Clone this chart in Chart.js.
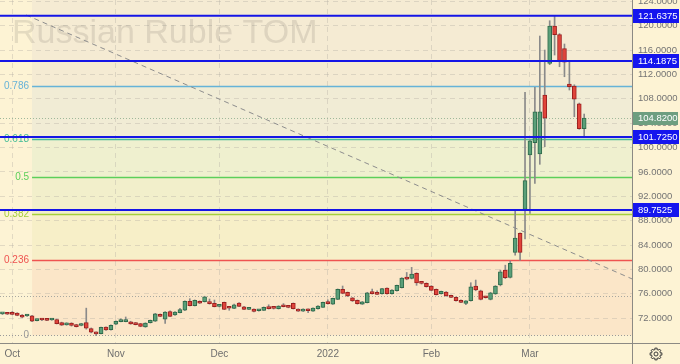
<!DOCTYPE html>
<html><head><meta charset="utf-8">
<script src="https://cdn.jsdelivr.net/npm/chart.js"></script>
<style>html,body{margin:0;padding:0;background:#fdf3d4;overflow:hidden}#c{display:block}</style>
</head><body><canvas id="c" width="680" height="364"></canvas>
<script>
// ---------- DATA ----------
const dates = [
"2021-09-29","2021-09-30",
"2021-10-01","2021-10-04","2021-10-05","2021-10-06","2021-10-07","2021-10-08","2021-10-11","2021-10-12","2021-10-13","2021-10-14","2021-10-15",
"2021-10-18","2021-10-19","2021-10-20","2021-10-21","2021-10-22","2021-10-25","2021-10-26","2021-10-27","2021-10-28","2021-10-29",
"2021-11-01","2021-11-02","2021-11-03","2021-11-05","2021-11-08","2021-11-09","2021-11-10","2021-11-11","2021-11-12",
"2021-11-15","2021-11-16","2021-11-17","2021-11-18","2021-11-19","2021-11-22","2021-11-23","2021-11-24","2021-11-25","2021-11-26","2021-11-29","2021-11-30",
"2021-12-01","2021-12-02","2021-12-03","2021-12-06","2021-12-07","2021-12-08","2021-12-09","2021-12-10","2021-12-13","2021-12-14","2021-12-15","2021-12-16","2021-12-17",
"2021-12-20","2021-12-21","2021-12-22","2021-12-23","2021-12-24","2021-12-27","2021-12-28","2021-12-29","2021-12-30",
"2022-01-03","2022-01-04","2022-01-05","2022-01-06","2022-01-07","2022-01-10","2022-01-11","2022-01-12","2022-01-13","2022-01-14",
"2022-01-17","2022-01-18","2022-01-19","2022-01-20","2022-01-21","2022-01-24","2022-01-25","2022-01-26","2022-01-27","2022-01-28","2022-01-31",
"2022-02-01","2022-02-02","2022-02-03","2022-02-04","2022-02-07","2022-02-08","2022-02-09","2022-02-10","2022-02-11",
"2022-02-14","2022-02-15","2022-02-16","2022-02-17","2022-02-18","2022-02-21","2022-02-22","2022-02-23","2022-02-24","2022-02-25","2022-02-28",
"2022-03-01","2022-03-02","2022-03-03","2022-03-04","2022-03-07","2022-03-09","2022-03-10","2022-03-11","2022-03-14","2022-03-15","2022-03-16","2022-03-17"
];
const opens = [
72.72,72.75,72.90,72.85,72.52,72.36,72.40,71.60,71.78,71.80,
71.70,71.78,71.30,70.90,71.20,70.93,70.80,71.30,70.30,69.68,
69.45,70.55,70.12,71.00,71.45,71.45,71.42,71.26,71.10,70.55,
71.26,71.50,72.62,71.86,73.10,72.52,72.90,73.30,74.75,74.05,
74.77,74.70,74.65,74.44,73.95,74.60,73.70,73.62,74.48,73.88,
73.45,73.50,73.22,73.29,73.78,73.63,73.55,74.16,74.00,74.44,
73.50,73.17,73.50,73.17,73.55,73.78,74.60,74.32,75.10,76.74,
76.24,75.36,74.93,74.32,74.54,76.18,76.12,76.01,76.95,76.02,
76.51,77.00,78.54,78.54,79.36,77.88,77.72,77.28,76.74,76.01,
76.29,75.75,75.42,74.93,74.44,74.86,77.28,76.51,75.50,75.09,
75.97,77.44,79.90,78.70,82.80,85.92,89.86,98.77,100.79,98.94,
108.62,113.82,119.94,118.52,116.22,110.43,110.10,107.19,103.09];
const highs = [
72.85,72.80,73.10,72.90,72.60,72.65,72.45,71.85,71.90,71.90,
71.95,71.85,71.35,71.25,71.25,71.00,71.15,73.65,70.40,69.75,
70.55,70.60,70.90,71.55,71.90,72.20,71.50,71.30,71.15,71.25,
71.70,72.80,72.70,73.10,73.20,73.10,73.62,74.85,75.20,75.00,
74.85,75.60,75.15,74.98,74.25,74.65,73.90,74.30,74.55,73.95,
73.65,73.55,73.45,73.85,74.20,73.75,74.05,74.40,74.05,74.50,
73.55,73.55,73.55,73.70,74.05,74.65,75.00,75.30,76.80,77.28,
76.30,75.40,75.00,74.75,76.25,76.78,76.50,76.90,77.00,76.70,
77.45,78.65,79.50,80.34,79.45,77.95,77.80,77.35,76.80,76.45,
76.35,75.80,75.50,75.00,74.90,77.82,78.26,76.60,75.60,76.25,
77.35,79.90,80.70,81.38,89.63,86.00,109.06,101.30,109.88,118.30,
116.00,120.81,121.64,118.70,116.99,114.09,110.30,107.30,105.50];
const lows = [
72.60,72.60,72.55,72.40,72.10,72.30,71.45,71.55,71.60,71.60,
71.65,71.05,70.80,70.85,70.70,70.55,70.75,70.20,69.60,69.15,
69.40,70.00,70.05,70.95,71.40,71.40,71.00,70.90,70.60,70.50,
71.20,71.45,72.25,71.15,72.25,72.45,72.85,73.25,74.00,74.00,
74.40,74.65,74.30,73.85,73.85,73.40,73.30,73.55,73.90,73.40,
73.40,73.05,73.15,73.25,73.50,73.50,73.50,73.85,73.70,73.50,
73.10,73.10,72.90,73.10,73.50,73.75,74.30,74.25,75.05,76.00,
75.55,74.75,74.30,74.25,74.50,75.95,75.85,75.95,75.95,75.95,
76.45,76.95,78.30,78.45,77.39,77.60,77.10,76.50,75.80,75.95,
75.60,75.35,74.80,74.55,74.20,74.80,76.50,75.00,75.30,75.00,
75.90,77.30,78.50,78.60,82.36,81.54,84.99,89.21,94.13,97.25,
100.14,113.60,115.18,113.26,111.62,109.44,105.06,103.00,101.78];
const closes = [
72.75,72.65,72.62,72.47,72.15,72.55,71.50,71.80,71.70,71.65,
71.87,71.10,70.85,71.20,70.80,70.62,71.10,70.35,69.70,69.42,
70.50,70.08,70.83,71.50,71.55,71.58,71.05,70.95,70.66,71.20,
71.65,72.72,72.30,73.00,72.30,73.00,73.40,74.77,74.05,74.93,
74.45,75.52,74.38,73.90,74.15,73.45,73.63,74.20,73.95,73.45,
73.60,73.12,73.33,73.78,73.56,73.60,74.00,73.88,73.78,73.55,
73.17,73.50,73.22,73.67,74.00,74.60,74.38,75.26,76.74,76.08,
75.64,74.82,74.38,74.70,76.18,76.02,75.92,76.84,76.02,76.62,
77.39,78.59,78.40,79.25,77.77,77.72,77.17,76.57,75.85,76.41,
75.64,75.42,74.86,74.60,74.86,77.16,76.62,75.10,75.35,76.18,
77.28,79.62,78.64,81.00,85.15,82.80,94.56,101.12,105.88,105.88,
104.80,119.94,118.52,114.25,113.99,109.98,107.92,103.09,104.82];

const monthNames = ["Jan","Feb","Mar","Apr","May","Jun","Jul","Aug","Sep","Oct","Nov","Dec"];
const yTickValues = [72,76,80,84,88,92,96,100,104,108,112,116,120,124];
const keyLevels = [121.6375,114.1875,101.725,89.7525];
const lastPrice = 104.82;
const dottedLevels = [75.64];
const fibLow = 69.19, fibHigh = 121.23;
const fibRatios = [0,0.236,0.382,0.5,0.618,0.786];
const fibLabels = ["0","0.236","0.382","0.5","0.618","0.786"];
const trendLine = [{x:4.8,y:121.75},{x:130,y:77.64}];
const title = "Russian Ruble TOM";

// ---------- STYLE ----------
const BG = "#fdf3d4";
const FONT = '"Liberation Sans",Arial,sans-serif';
const fibColors = ["#9a9a9a","#ef5350","#a6cf3c","#5ccf5a","#47bd98","#66b3d8"];
const zoneColors = ["#fbe6c8","#f7efc8","#f2efcb","#eff0cf","#f1ecd5","#f5ebd3"];
const FIB_START = 6;
const UP_FILL = "#5a9f79", UP_LINE = "#2f6b4b", DN_FILL = "#e0443a", DN_LINE = "#9b2020", WICK = "#8a8a8a";

const n = dates.length;
const idx = dates.map((d,i)=>i);
const wickData = idx.map(i=>({x:i,y:[lows[i],highs[i]]}));
const bodyData = idx.map(i=>({x:i,y:[opens[i],closes[i]]}));
const isUp = idx.map(i=>closes[i]>=opens[i]);

const monthTicks = [];
for (let i=1;i<n;i++){ if (dates[i].slice(0,7)!==dates[i-1].slice(0,7)) monthTicks.push(i); }
function monthLabel(i){ const m=+dates[i].slice(5,7)-1; return m===0 ? dates[i].slice(0,4) : monthNames[m]; }

const deco = {
  id:'deco',
  beforeDraw(chart){
    const {ctx, chartArea:a, scales:{x,y}} = chart;
    ctx.save();
    ctx.fillStyle = BG; ctx.fillRect(0,0,chart.width,chart.height);
    const x0 = x.getPixelForValue(FIB_START);
    const lv = fibRatios.map(r=>fibLow + r*(fibHigh-fibLow));
    for (let k=0;k<lv.length;k++){
      const bot = y.getPixelForValue(lv[k]);
      const top = k===lv.length-1 ? a.top : y.getPixelForValue(lv[k+1]);
      ctx.fillStyle = zoneColors[k];
      ctx.fillRect(x0, top, a.right-x0, bot-top);
    }
    ctx.restore();
  },
  beforeDatasetsDraw(chart){
    const {ctx, chartArea:a, scales:{x,y}} = chart;
    ctx.save();
    ctx.font = '34px "Liberation Sans",Arial,sans-serif';
    ctx.fillStyle = "rgba(120,118,105,0.19)";
    ctx.textBaseline = "alphabetic"; ctx.textAlign = "left";
    ctx.fillText(title, 12, 43);
    const x0 = x.getPixelForValue(FIB_START);
    ctx.font = '10px '+FONT; ctx.textAlign="right"; ctx.textBaseline="middle";
    fibRatios.forEach((r,k)=>{
      const py = Math.round(y.getPixelForValue(fibLow + r*(fibHigh-fibLow)))+0.5;
      ctx.strokeStyle = fibColors[k]; ctx.lineWidth = k===0?1:1.5;
      ctx.setLineDash(k===0?[1,2]:[]);
      ctx.beginPath(); ctx.moveTo(k===0?a.left:x0,py); ctx.lineTo(a.right,py); ctx.stroke();
      ctx.fillStyle = fibColors[k];
      ctx.fillText(fibLabels[k], x0-3, py);
    });
    ctx.setLineDash([1,2]); ctx.lineWidth=1; ctx.strokeStyle="#a8a8a0";
    dottedLevels.forEach(v=>{ const py=Math.round(y.getPixelForValue(v))+0.5; ctx.beginPath(); ctx.moveTo(a.left,py); ctx.lineTo(a.right,py); ctx.stroke(); });
    ctx.strokeStyle="#9fb89a";
    const pp=Math.round(y.getPixelForValue(lastPrice))+0.5;
    ctx.beginPath(); ctx.moveTo(a.left,pp); ctx.lineTo(a.right,pp); ctx.stroke();
    ctx.restore();
  },
  afterDatasetsDraw(chart){
    const {ctx, chartArea:a, scales:{y}} = chart;
    ctx.save();
    ctx.font = '9.5px '+FONT; ctx.textBaseline="middle"; ctx.textAlign="left";
    keyLevels.forEach(v=>{
      const py = y.getPixelForValue(v);
      ctx.strokeStyle="#1515e6"; ctx.lineWidth=2;
      ctx.beginPath(); ctx.moveTo(a.left,py); ctx.lineTo(a.right,py); ctx.stroke();
      ctx.fillStyle="#1515ee"; ctx.fillRect(a.right, Math.round(py)-7, 47, 14);
      ctx.fillStyle="#ffffff"; ctx.fillText(v.toFixed(4), a.right+6, py+0.5);
    });
    const pp = y.getPixelForValue(lastPrice);
    ctx.fillStyle="#6d9e80"; ctx.fillRect(a.right, Math.round(pp)-6, 46, 13);
    ctx.fillStyle="#ffffff"; ctx.fillText(lastPrice.toFixed(4), a.right+6, pp+0.5);
    ctx.restore();
  },
  afterDraw(chart){
    const {ctx, chartArea:a} = chart;
    ctx.save();
    ctx.strokeStyle="#8c8a84"; ctx.lineWidth=1;
    ctx.beginPath(); ctx.moveTo(0,a.bottom+0.5); ctx.lineTo(chart.width,a.bottom+0.5); ctx.stroke();
    ctx.beginPath(); ctx.moveTo(a.right+0.5,0); ctx.lineTo(a.right+0.5,chart.height); ctx.stroke();
    const cx=656, cy=354; ctx.strokeStyle="#3c3c3c"; ctx.lineWidth=1;
    ctx.beginPath();
    for (let t=0;t<16;t++){ const ang=t*Math.PI/8; const r=(t%2===0)?6:4.6;
      if(t===0) ctx.moveTo(cx+r*Math.cos(ang-0.2),cy+r*Math.sin(ang-0.2));
      ctx.lineTo(cx+r*Math.cos(ang-0.2),cy+r*Math.sin(ang-0.2));
      ctx.lineTo(cx+r*Math.cos(ang+0.2),cy+r*Math.sin(ang+0.2));
    }
    ctx.closePath(); ctx.stroke();
    ctx.beginPath(); ctx.arc(cx,cy,2,0,Math.PI*2); ctx.stroke();
    ctx.restore();
  }
};

new Chart(document.getElementById('c'), {
  type:'bar',
  data:{ datasets:[
    { type:'line', data:trendLine, borderColor:"#8d8d8d", borderWidth:1, borderDash:[5,4], pointRadius:0, order:0, fill:false },
    { data:bodyData, grouped:false, barThickness:4, minBarLength:2, borderSkipped:false, borderWidth:1,
      backgroundColor: isUp.map(u=>u?UP_FILL:DN_FILL), borderColor: isUp.map(u=>u?UP_LINE:DN_LINE), order:1 },
    { data:wickData, grouped:false, barThickness:1, backgroundColor:WICK, borderWidth:0, order:2 }
  ]},
  options:{
    responsive:false, animation:false, devicePixelRatio:1,
    layout:{padding:0},
    plugins:{legend:{display:false}, tooltip:{enabled:false}},
    scales:{
      x:{ type:'linear', min:-0.5, max:127.7, offset:false,
        grid:{offset:false, color:"rgba(175,170,160,0.35)", drawTicks:false},
        border:{display:false, dash:[5,4]},
        afterBuildTicks(s){ s.ticks = monthTicks.map(i=>({value:i})); },
        ticks:{ padding:5, color:"#6e6e6e", font:{family:FONT,size:10}, maxRotation:0, autoSkip:false,
          callback:(v)=>monthLabel(v) },
        afterFit(s){ s.height=21; s.paddingLeft=0; s.paddingRight=0; }
      },
      y:{ type:'linear', position:'right', min:67.93, max:124.21,
        grid:{color:"rgba(175,170,160,0.35)", drawTicks:false},
        border:{display:false, dash:[5,4]},
        afterBuildTicks(s){ s.ticks = yTickValues.map(v=>({value:v})); },
        ticks:{ padding:6, color:"#747474", font:{family:FONT,size:9.5}, callback:(v)=>Number(v).toFixed(4) },
        afterFit(s){ s.width=48; s.paddingTop=0; s.paddingBottom=0; }
      }
    }
  },
  plugins:[deco]
});
</script></body></html>
